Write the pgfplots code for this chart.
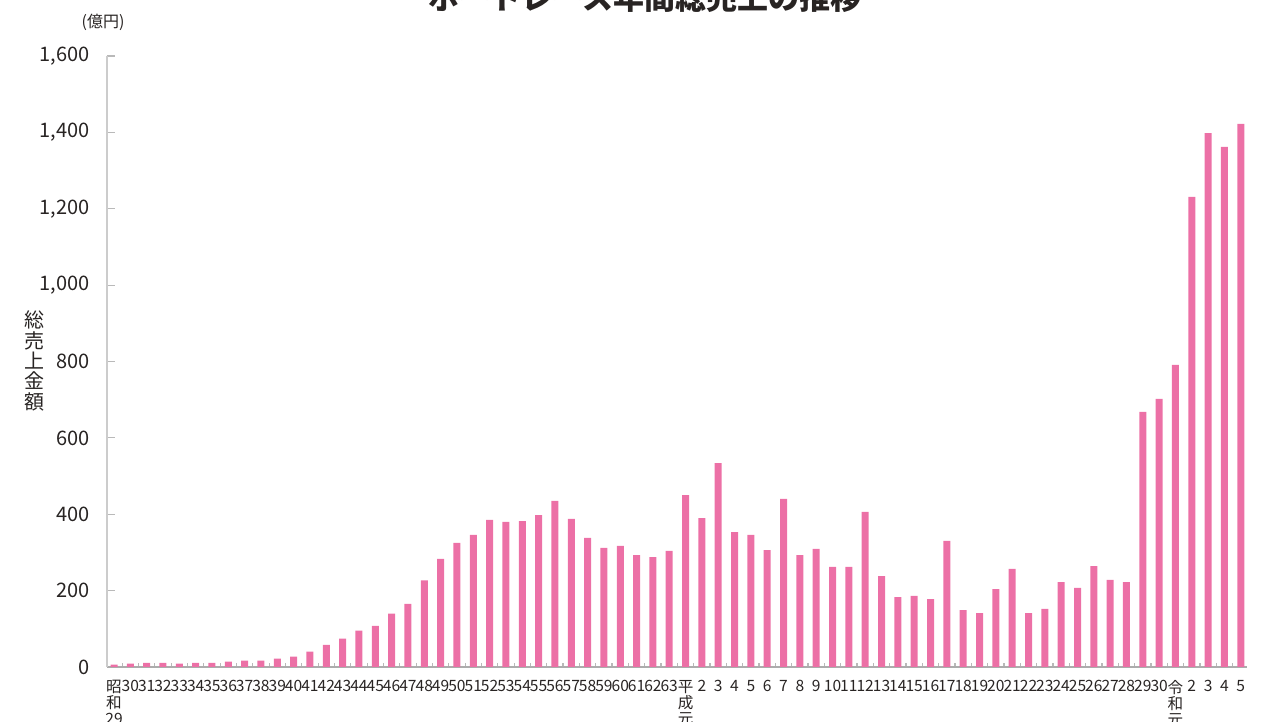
\documentclass[border=0pt]{standalone}
\usepackage{pgfplots}
\pgfplotsset{compat=1.18}
\usepackage{fontspec}
\setmainfont{Noto Sans CJK JP}
\definecolor{barpink}{RGB}{236,112,166}
\definecolor{txt}{RGB}{40,36,35}
\begin{document}
\begin{tikzpicture}
\useasboundingbox (0,0) rectangle (634pt,361pt);
\begin{axis}[
  at={(53.5pt,27.5pt)}, anchor=south west,
  scale only axis, width=570pt, height=305.5pt,
  xmin=-0.429, xmax=69.38, ymin=0, ymax=1600,
  axis x line*=bottom, axis y line*=left,
  x axis line style={-, draw=gray!65, line width=0.8pt},
  y axis line style={-, draw=gray!40, line width=0.8pt},
  xtick={0,...,69},
  xticklabels={{昭\\和\\29},30,31,32,33,34,35,36,37,38,39,40,41,42,43,44,45,46,47,48,49,50,51,52,53,54,55,56,57,58,59,60,61,62,63,{平\\成\\元},2,3,4,5,6,7,8,9,10,11,12,13,14,15,16,17,18,19,20,21,22,23,24,25,26,27,28,29,30,{令\\和\\元},2,3,4,5},
  minor xtick={0.5,1.5,...,68.5},
  major x tick style={draw=none},
  minor x tick style={draw=gray!55, line width=0.6pt},
  minor tick length=2pt,
  major tick length=4pt,
  major y tick style={draw=gray!55, line width=0.6pt},
  tick align=inside,
  xticklabel style={anchor=north, align=center, inner sep=0pt, yshift=-6.5pt, font=\fontsize{7.8}{8}\selectfont, text=txt},
  ytick={0,200,...,1600},
  scaled y ticks=false,
  yticklabel style={anchor=east, inner sep=0pt, xshift=-8.5pt, font=\fontsize{10}{12}\selectfont, text=txt},
  /pgf/number format/1000 sep={,},
  /pgf/number format/assume math mode=true,
]
\addplot[ybar, bar width=3.5pt, fill=barpink, draw=none] table {
x y
0 6
1 9
2 11
3 11
4 9
5 11
6 11
7 14
8 17
9 17
10 22
11 27
12 40
13 58
14 74
15 95
16 108
17 140
18 165
19 227
20 283
21 325
22 346
23 385
24 380
25 382
26 398
27 435
28 388
29 338
30 312
31 317
32 293
33 288
34 304
35 450
36 390
37 534
38 353
39 346
40 306
41 440
42 293
43 309
44 262
45 262
46 406
47 238
48 183
49 186
50 178
51 330
52 149
53 141
54 204
55 257
56 141
57 152
58 222
59 207
60 264
61 228
62 222
63 668
64 702
65 791
66 1231
67 1398
68 1362
69 1422
};
\end{axis}
\node[font=\bfseries\fontsize{15.5}{16}\selectfont, anchor=base, text=txt] at (322.5pt,356pt) {ボートレース年間総売上の推移};
\node[font=\fontsize{8}{8}\selectfont, text=txt] at (51.5pt,350pt) {(億円)};
\node[align=center, font=\fontsize{10}{10.2}\selectfont, text=txt] at (17.5pt,180.5pt) {総\\売\\上\\金\\額};
\end{tikzpicture}
\end{document}
